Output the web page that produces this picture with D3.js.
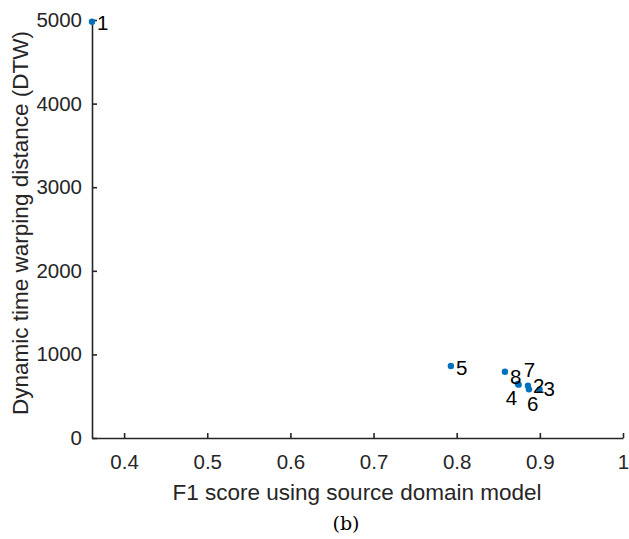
<!DOCTYPE html>
<html>
<head>
<meta charset="utf-8">
<script src="https://cdn.jsdelivr.net/npm/d3@7/dist/d3.min.js"></script>
<style>
  body { margin: 0; background: #fff; }
  svg { display: block; }
</style>
</head>
<body>
<div id="chart"></div>
<script>
// point ids, F1 score (x) and DTW distance (y)
const labels = ["1", "2", "3", "4", "5", "6", "7", "8"];
const f1Scores = [0.3614, 0.8857, 0.8997, 0.8745, 0.793, 0.8869, 0.8735, 0.858];
const dtwValues = [4980, 626, 582, 638, 861, 582, 648, 793];
const xTicks = [0.4, 0.5, 0.6, 0.7, 0.8, 0.9, 1];
const yTicks = [0, 1000, 2000, 3000, 4000, 5000];

// label placement relative to the dot (pixels)
const labelOffsets = [[5, 1], [5, 0], [4, -1], [-13, 13], [5, 2], [-2, 14], [6, -14], [5, 5]];

const width = 629, height = 539;
const margin = { top: 20, right: 6, bottom: 101, left: 92 };

const svg = d3.select("#chart").append("svg")
  .attr("width", width)
  .attr("height", height);

const x = d3.scaleLinear()
  .domain([0.3614, 1])
  .range([margin.left, width - margin.right]);

const y = d3.scaleLinear()
  .domain([0, 5000])
  .range([height - margin.bottom, margin.top]);

const axisColor = "#262626";
const font = "'Liberation Sans', Arial, sans-serif";

// x axis
const xAxis = svg.append("g")
  .attr("transform", `translate(0,${y(0)})`)
  .call(d3.axisBottom(x).tickValues(xTicks).tickSizeInner(-5).tickSizeOuter(0).tickPadding(16)
    .tickFormat(d => d === 1 ? "1" : d3.format(".1f")(d)));

// y axis
const yAxis = svg.append("g")
  .attr("transform", `translate(${margin.left},0)`)
  .call(d3.axisLeft(y).tickValues(yTicks).tickSizeInner(-5).tickSizeOuter(0).tickPadding(10)
    .tickFormat(d3.format("d")));

[xAxis, yAxis].forEach(a => {
  a.select(".domain").attr("stroke", axisColor).attr("stroke-width", 1.6);
  a.selectAll(".tick line").attr("stroke", axisColor).attr("stroke-width", 1.6);
  a.selectAll(".tick text")
    .attr("fill", axisColor)
    .attr("font-family", font)
    .attr("font-size", "20.5px");
});

// axis titles
svg.append("text")
  .attr("x", 357)
  .attr("y", 500)
  .attr("text-anchor", "middle")
  .attr("fill", axisColor)
  .attr("font-family", font)
  .attr("font-size", "22.5px")
  .text("F1 score using source domain model");

svg.append("text")
  .attr("transform", `translate(28,223) rotate(-90)`)
  .attr("text-anchor", "middle")
  .attr("fill", axisColor)
  .attr("font-family", font)
  .attr("font-size", "22.5px")
  .text("Dynamic time warping distance (DTW)");

svg.append("text")
  .attr("x", 346)
  .attr("y", 530)
  .attr("text-anchor", "middle")
  .attr("fill", "#000")
  .attr("font-family", "'DejaVu Serif', 'Liberation Serif', serif")
  .attr("font-size", "19px")
  .text("(b)");

// points
const pts = labels.map((l, i) => ({ label: l, f1: f1Scores[i], dtw: dtwValues[i], off: labelOffsets[i] }));

svg.append("g").selectAll("circle")
  .data(pts)
  .join("circle")
  .attr("cx", d => x(d.f1))
  .attr("cy", d => y(d.dtw))
  .attr("r", 3.2)
  .attr("fill", "#0072BD");

svg.append("g").selectAll("text")
  .data(pts)
  .join("text")
  .attr("x", d => x(d.f1) + d.off[0])
  .attr("y", d => y(d.dtw) + d.off[1])
  .attr("dy", "0.35em")
  .attr("fill", "#000")
  .attr("font-family", font)
  .attr("font-size", "20.5px")
  .text(d => d.label);
</script>
</body>
</html>
